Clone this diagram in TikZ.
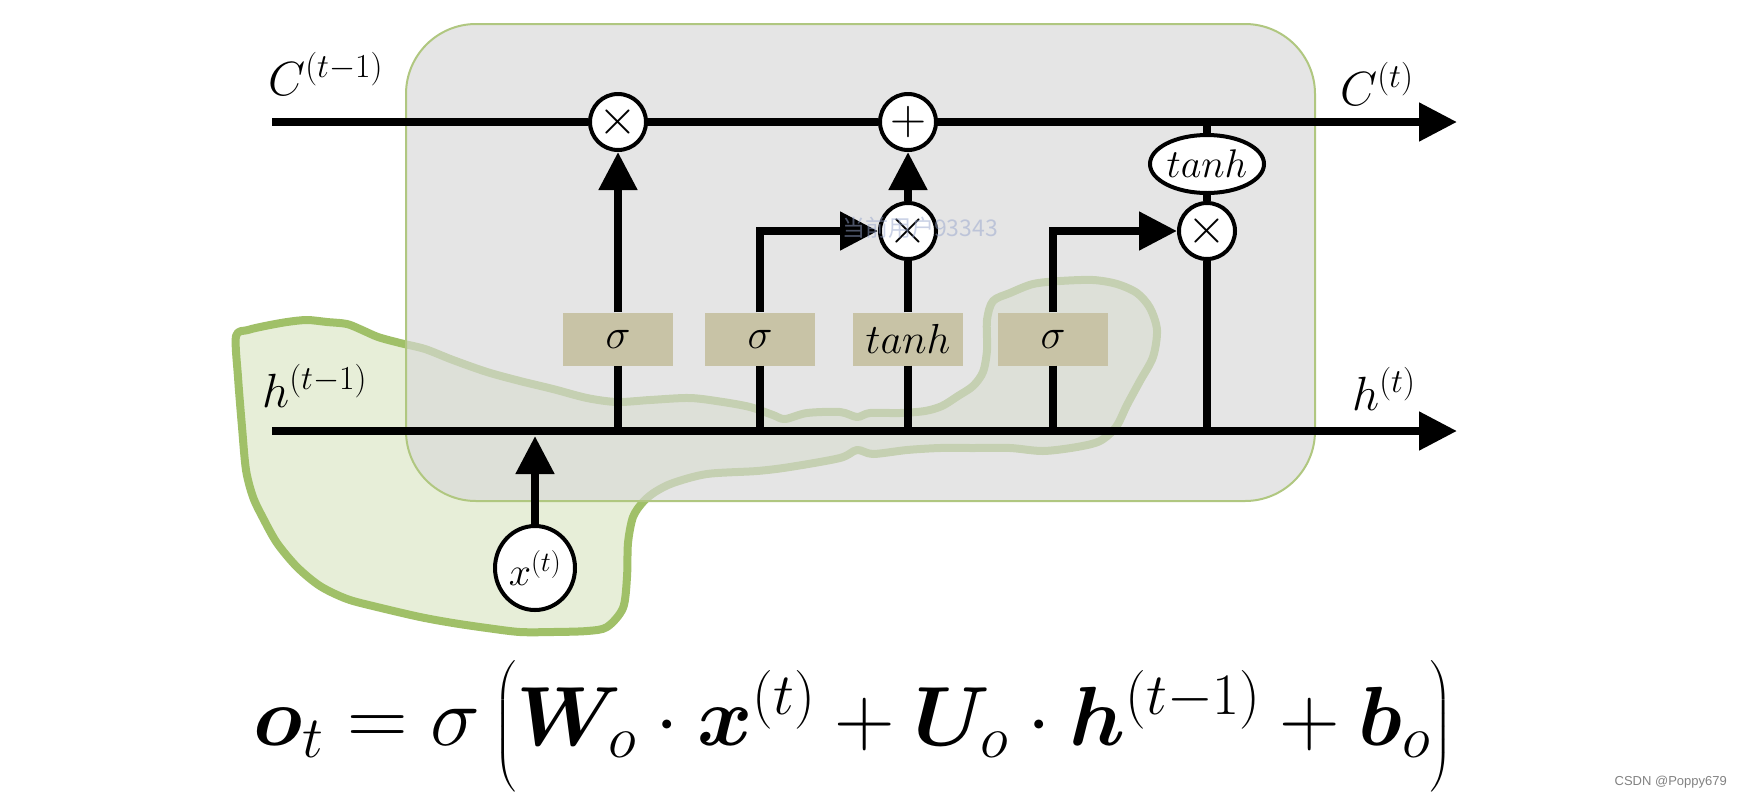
\RequirePackage{fix-cm}
\documentclass[tikz,border=0pt]{standalone}
\usepackage{amsmath}
\usepackage{bm}
\usepackage{graphicx}
\usepackage{fontspec}
\newfontfamily\cjkfont{Noto Sans CJK SC}
\newfontfamily\arialfont{Liberation Sans}
\usetikzlibrary{arrows.meta,shapes.geometric}
\definecolor{blobline}{RGB}{160,192,104}
\definecolor{blobfill}{RGB}{231,238,216}
\definecolor{boxgray}{RGB}{217,217,217}
\definecolor{boxborder}{RGB}{176,199,128}
\definecolor{gatecol}{RGB}{200,195,166}
\definecolor{wmcol}{RGB}{150,165,205}
\definecolor{sigcol}{RGB}{130,130,130}
\newcommand{\myopen}{\mathopen{\scalebox{1}[0.88]{$\Bigl($}}}
\newcommand{\myclose}{\mathclose{\scalebox{1}[0.88]{$\Bigr)$}}}
\begin{document}
\begin{tikzpicture}[x=1pt,y=-1pt,
  ln/.style={line width=8pt,black},
  arr/.style={-{Triangle[length=38pt,width=37pt]}},
  opnode/.style={circle,draw,line width=4pt,fill=white,minimum size=56pt,inner sep=0pt,font=\fontsize{50}{60}\selectfont},
  ellnode/.style={ellipse,draw,line width=4pt,fill=white,minimum width=108pt,minimum height=58pt,inner sep=0pt,font=\fontsize{40}{48}\selectfont},
  xnode/.style={ellipse,draw,line width=4pt,fill=white,minimum width=80pt,minimum height=84pt,inner sep=0pt,font=\fontsize{40}{48}\selectfont},
  gate/.style={rectangle,fill=gatecol,minimum width=110pt,minimum height=53pt,inner sep=0pt,font=\fontsize{42}{50}\selectfont},
  lbl/.style={inner sep=0pt,font=\fontsize{48}{58}\selectfont},
  wm/.style={inner sep=0pt,text=wmcol,text opacity=0.5,font=\cjkfont\fontsize{23}{28}\selectfont},
  sig/.style={inner sep=0pt,text=sigcol,font=\arialfont\fontsize{13}{16}\selectfont}
]
\useasboundingbox (0,0) rectangle (1742,796);
\fill[white] (0,0) rectangle (1742,796);

% green highlight blob
\draw[line width=8pt,draw=blobline,fill=blobfill,line join=round]
  plot[smooth cycle,tension=0.5] coordinates {
  (236,336) (248,330) (265,326) (287,322) (307,320) (327,322) (347,324) (362,330)
  (378,337) (400,343) (425,349) (453,360) (487,372) (520,381) (553,389) (587,398)
  (617,402) (650,400) (690,398) (723,402) (750,407) (773,415) (785,419) (807,413)
  (840,412) (857,417) (870,413) (900,413) (925,411) (942,406) (958,396) (973,386)
  (983,372) (987,350) (987,320) (993,301) (1010,293) (1033,284) (1060,281) (1093,280)
  (1117,284) (1137,293) (1150,308) (1157,330) (1153,357) (1140,381) (1127,405) (1116,427)
  (1100,441) (1077,447) (1043,451) (1010,448) (973,448) (940,448) (907,450) (873,454)
  (857,450) (840,458) (790,467) (757,471) (707,474) (673,483) (655,492) (643,502)
  (633,517) (628,543) (627,577) (623,608) (607,627) (587,631) (553,632) (520,632)
  (487,628) (453,623) (420,617) (377,607) (347,599) (320,586) (297,567) (277,543)
  (263,518) (253,497) (246,470) (242,427) (238,377)};

% cell box
\fill[boxgray,fill opacity=0.66,rounded corners=70pt] (406,24) rectangle (1315,501);
\draw[boxborder,line width=2pt,rounded corners=70pt] (406,24) rectangle (1315,501);

% end points
\coordinate (cin) at (272,122);
\coordinate (cout) at (1457,122);
\coordinate (hin) at (272,431);
\coordinate (hout) at (1457,431);

% nodes
\node[opnode] (m1) at (618,122) {$\times$};
\node[opnode] (add) at (908,122) {$+$};
\node[opnode] (m2) at (908,231) {$\times$};
\node[opnode] (m3) at (1207,231) {$\times$};
\node[ellnode] (th) at (1207,164) {$tanh$};
\node[gate] (g1) at (618,339) {$\sigma$};
\node[gate] (g2) at (760,339) {$\sigma$};
\node[gate] (g3) at (908,339) {$tanh$};
\node[gate] (g4) at (1053,339) {$\sigma$};
\node[xnode] (x) at (535,568) {$x^{(t)}$};

% connectors
\draw[ln] (cin) -- (m1.west);
\draw[ln] (m1.east) -- (add.west);
\draw[ln,arr] (add.east) -- (cout);
\draw[ln,arr] (hin) -- (hout);
\draw[ln] (g1.south) -- (g1.south |- hin);
\draw[ln,arr] (g1.north) -- (m1.south);
\draw[ln] (g2.south) -- (g2.south |- hin);
\draw[ln,arr] (g2.north) |- (m2.west);
\draw[ln] (g3.south) -- (g3.south |- hin);
\draw[ln] (g3.north) -- (m2.south);
\draw[ln,arr] (m2.north) -- (add.south);
\draw[ln] (g4.south) -- (g4.south |- hin);
\draw[ln,arr] (g4.north) |- (m3.west);
\draw[ln] (m3.south |- hin) -- (m3.south);
\draw[ln] (m3.north) -- (th.south);
\draw[ln] (th.north) -- (th.north |- cin);
\draw[ln,arr] (x.north) -- ([yshift=-5pt]x.north |- hin);

% labels
\node[lbl,anchor=base west] (cprev) at (268,95) {$C^{(t-1)}$};
\node[lbl,anchor=base west] (hprev) at (262,407) {$h^{(t-1)}$};
\node[lbl,anchor=base west] (cnext) at (1340,105) {$C^{(t)}$};
\node[lbl,anchor=base west] (hnext) at (1352,410) {$h^{(t)}$};

% formula
\node[inner sep=0pt,anchor=base,font=\fontsize{84}{100}\selectfont] (eq) at (853,745)
  {$\bm{o}_t = \sigma\,\myopen\bm{W}_o \cdot \bm{x}^{(t)} + \bm{U}_o \cdot \bm{h}^{(t-1)} + \bm{b}_o\myclose$};

% watermarks
\node[wm] (wmk) at (920,228) {当前用户93343};
\node[sig,anchor=base east] (csdn) at (1727,785) {CSDN @Poppy679};
\end{tikzpicture}
\end{document}
